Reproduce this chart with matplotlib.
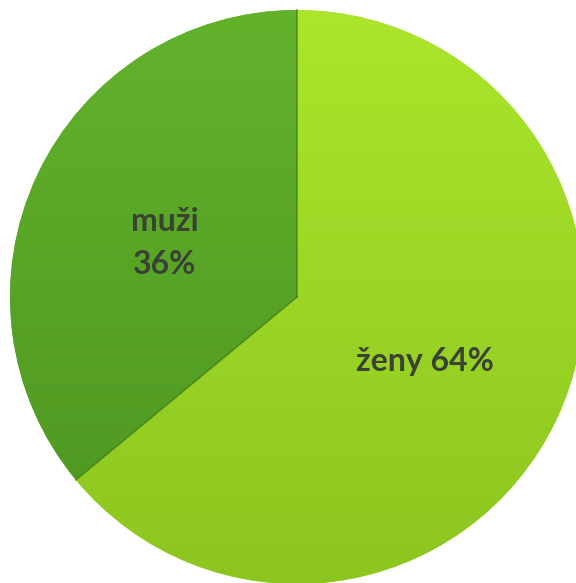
import matplotlib
matplotlib.use('Agg')
import matplotlib.pyplot as plt
import numpy as np
from matplotlib.colors import LinearSegmentedColormap

labels = ['ženy 64%', 'muži\n36%']
values = [64, 36]
top_colors = ['#abe62c', '#63b22c']
bottom_colors = ['#8cc51f', '#4c9520']

W, H = 576, 583
fig = plt.figure(figsize=(W / 100, H / 100), dpi=100)
ax = fig.add_axes([0, 0, 1, 1])

cx, cy, r = 297, 286, 287
wedges, _ = ax.pie(values, startangle=90, counterclock=False, radius=r,
                   center=(cx, cy), colors=top_colors,
                   wedgeprops=dict(linewidth=0), frame=True)
ax.set_xlim(0, W)
ax.set_ylim(0, H)
ax.set_aspect('equal')
ax.axis('off')

# vertical gradient inside each slice
grad = np.linspace(1, 0, 256).reshape(-1, 1)
for w, c1, c2 in zip(wedges, top_colors, bottom_colors):
    cmap = LinearSegmentedColormap.from_list('g', [c2, c1])
    im = ax.imshow(grad, cmap=cmap, extent=(cx - r, cx + r, cy - r, cy + r),
                   origin='upper', aspect='auto', zorder=2)
    im.set_clip_path(w)

# thin dark line between slices
ang = np.deg2rad([90, 90 - 360 * values[0] / sum(values)])
for a in ang:
    ax.plot([cx, cx + r * np.cos(a)], [cy, cy + r * np.sin(a)],
            color='#3f7a1a', lw=1.2, alpha=0.7, zorder=3)

ax.text(425, 221, labels[0], ha='center', va='center', fontsize=23,
        fontweight='bold', family='Lato', color='#3a4233', zorder=4)
ax.text(165, 340, labels[1], ha='center', va='center', fontsize=23,
        fontweight='bold', family='Lato', color='#3a4233', zorder=4,
        linespacing=1.55)

fig.savefig('out.png', dpi=100)
